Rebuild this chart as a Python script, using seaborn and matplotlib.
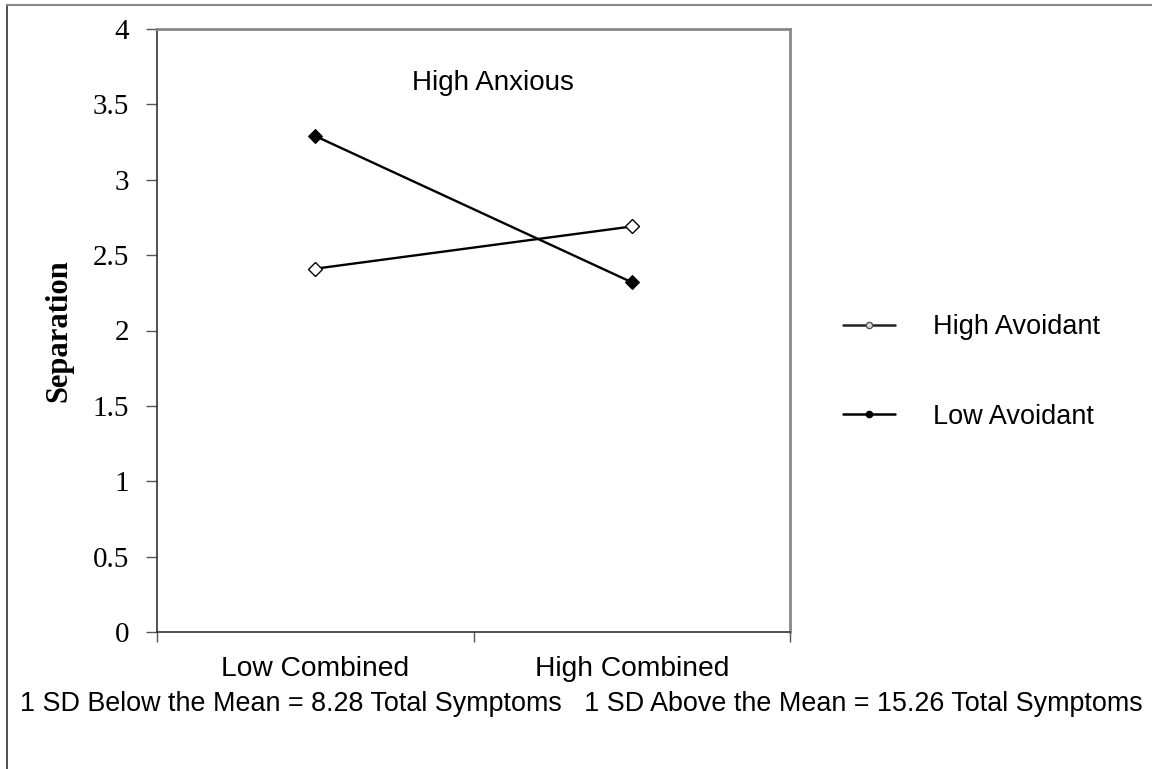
import matplotlib
matplotlib.use("Agg")
import matplotlib.pyplot as plt
import seaborn as sns
import pandas as pd
from matplotlib.lines import Line2D

categories = ["Low Combined", "High Combined"]
high_avoidant = [2.41, 2.69]
low_avoidant = [3.29, 2.32]
series_names = ["High Avoidant", "Low Avoidant"]
y_ticks = [0, 0.5, 1, 1.5, 2, 2.5, 3, 3.5, 4]
y_tick_labels = ["0", "0.5", "1", "1.5", "2", "2.5", "3", "3.5", "4"]

df = pd.DataFrame({
    "x": list(range(len(categories))) * 2,
    "value": high_avoidant + low_avoidant,
    "series": [series_names[0]] * len(categories) + [series_names[1]] * len(categories),
})

sns.set_theme(style="white")
plt.rcParams["font.family"] = ["Liberation Sans", "DejaVu Sans"]

fig = plt.figure(figsize=(11.52, 7.69), dpi=100)
ax = fig.add_axes([157/1152, 1-632/769, (790-157)/1152, (632-29)/769])

sns.lineplot(data=df, x="x", y="value", hue="series", style="series",
             palette={series_names[0]: "black", series_names[1]: "black"},
             markers={series_names[0]: "D", series_names[1]: "D"},
             dashes=False, linewidth=1.7, markersize=7.5, ax=ax, legend=False)

lines = ax.get_lines()
lines[0].set_markerfacecolor("white")
lines[0].set_markeredgecolor("black")
lines[0].set_markeredgewidth(1.0)
lines[1].set_markerfacecolor("black")
lines[1].set_markeredgecolor("black")

ax.set_xlim(-0.5, len(categories) - 0.5)
ax.set_ylim(0, 4)
ax.set_yticks(y_ticks)
ax.set_yticklabels(y_tick_labels, fontfamily="Liberation Serif", fontsize=21)
ax.set_xticks(range(len(categories)))
ax.set_xticklabels(categories, fontsize=20.3)
ax.set_xticks([-0.5, 0.5, 1.5], minor=True)
ax.tick_params(axis="x", which="major", length=0, pad=17, labelcolor="black")
ax.tick_params(axis="x", which="minor", length=7, width=1, color="#555555", direction="out", bottom=True)
ax.tick_params(axis="y", which="major", length=8, width=1, color="#555555", direction="out", left=True, pad=12, labelcolor="black")
ax.set_xlabel("")
ax.set_ylabel("Separation", fontfamily="Liberation Serif", fontweight="bold", fontsize=22, labelpad=14, color="black")

for side in ["left", "bottom"]:
    ax.spines[side].set_color("#333333")
    ax.spines[side].set_linewidth(1.2)
for side in ["top", "right"]:
    ax.spines[side].set_color("#888888")
    ax.spines[side].set_linewidth(2.0)
    ax.spines[side].set_visible(True)

ax.text((493-157)/633, 0.91, "High Anxious", transform=ax.transAxes, ha="center", va="center",
        fontsize=20, color="black")

handles = [
    Line2D([], [], color="#222222", linewidth=1.8, marker="o", markersize=4.5,
           markerfacecolor="#dddddd", markeredgecolor="#555555"),
    Line2D([], [], color="black", linewidth=1.8, marker="o", markersize=4.5,
           markerfacecolor="black", markeredgecolor="black"),
]
fig.legend(handles, series_names, loc="center left", bbox_to_anchor=(819/1152, 1-372/769),
           frameon=False, fontsize=19.5, handlelength=1.9, handletextpad=1.4, labelspacing=2.35,
           labelcolor="black")

fig.text(20/1152, 1-704/769,
         "1 SD Below the Mean = 8.28 Total Symptoms   1 SD Above the Mean = 15.26 Total Symptoms",
         ha="left", va="center", fontsize=19.35, color="black")

fig.add_artist(Line2D([7/1152, 7/1152], [0, 1-5/769], transform=fig.transFigure, color="#333333", linewidth=1.2))
fig.add_artist(Line2D([7/1152, 1], [1-5/769, 1-5/769], transform=fig.transFigure, color="#888888", linewidth=1.5))

fig.savefig("out.png", dpi=100)
